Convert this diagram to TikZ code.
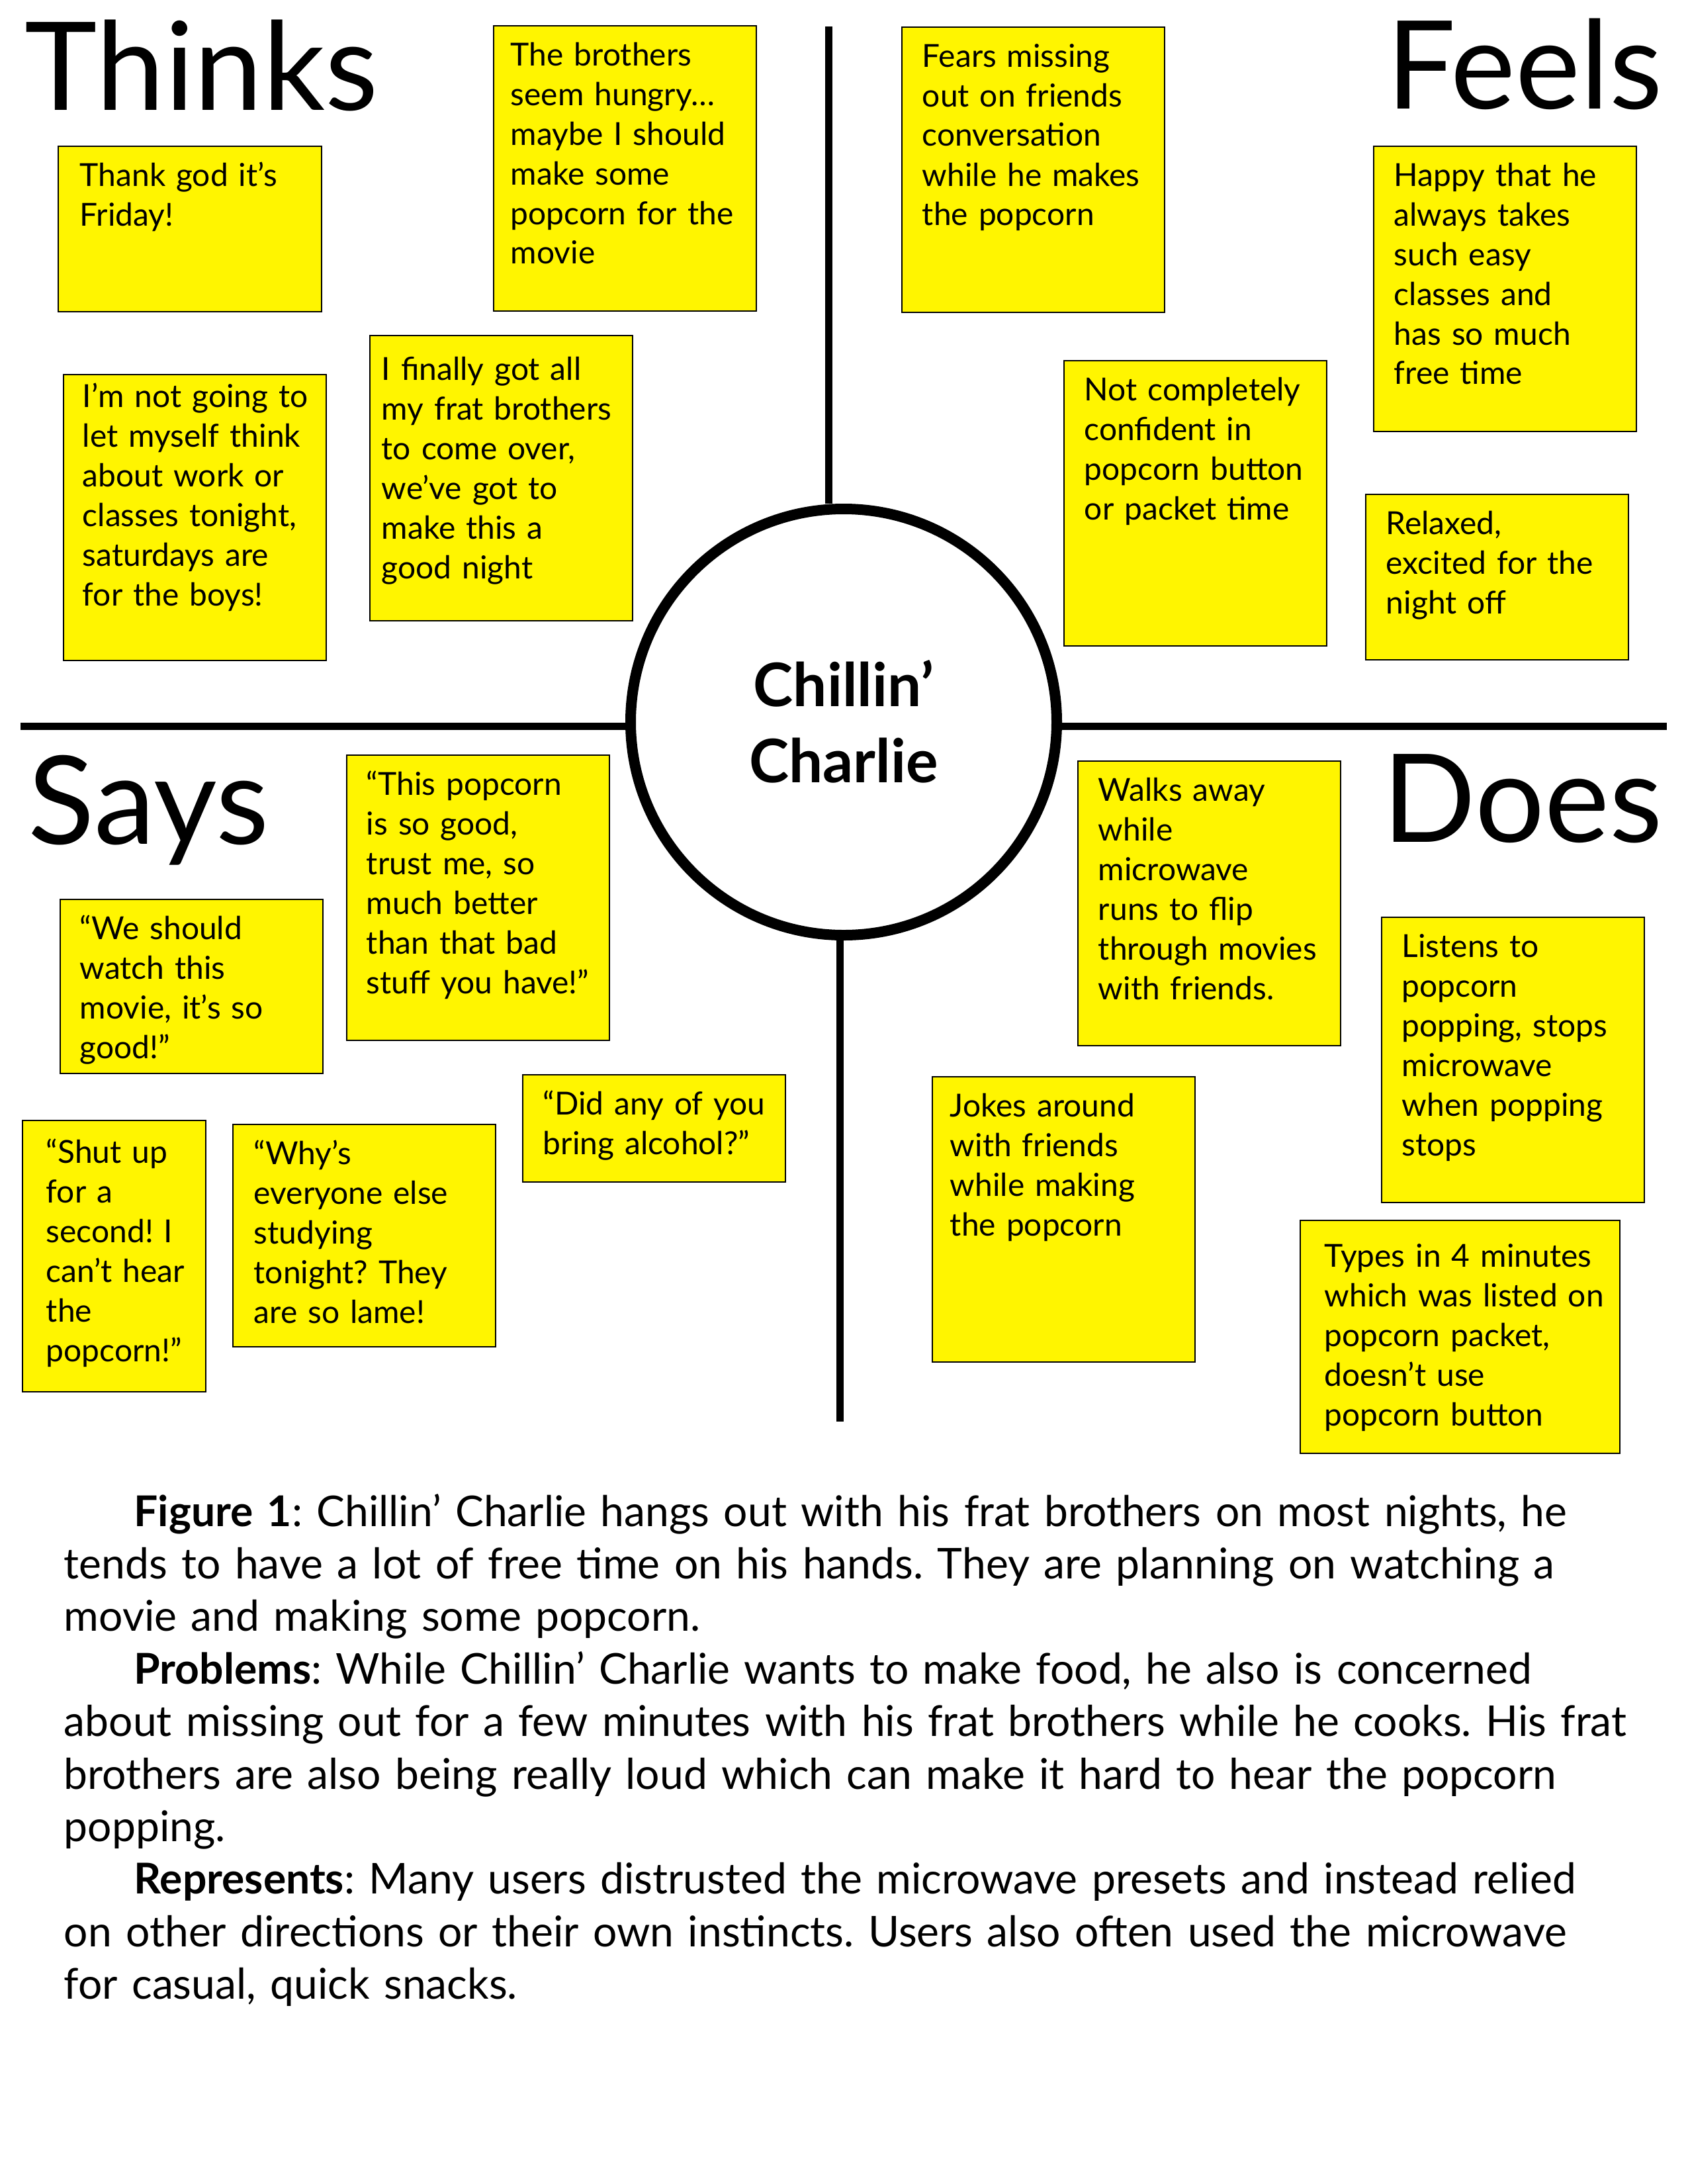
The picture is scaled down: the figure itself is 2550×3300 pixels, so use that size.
\documentclass[tikz,border=0pt]{standalone}
\usepackage{fontspec}
\setmainfont{Lato}
\frenchspacing
\definecolor{stickyyellow}{RGB}{255,245,0}
\tikzset{
  stickybox/.style={draw=black, line width=0.45pt, fill=stickyyellow, rectangle, inner sep=0pt, outer sep=0pt},
  stickytext/.style={inner sep=0pt, align=left, text width=140pt, font=\fontsize{11.5}{14.4}\selectfont},
  quadtitle/.style={inner sep=0pt, font=\fontsize{44.5}{50}\selectfont},
  centertxt/.style={inner sep=0pt, font=\fontsize{21.8}{26}\selectfont\bfseries},
  axisline/.style={line width=2.64pt},
  para/.style={inner sep=0pt, align=left, text width=640pt, font=\fontsize{15.4}{19.06}\selectfont},
}
% name, left, top, width, height, x padding, first baseline offset, text
\newcommand\stickynote[8]{%
  \node[stickybox, anchor=north west, minimum width=#4*0.24pt, minimum height=#5*0.24pt] (#1) at (#2,#3) {};
  \node[stickytext, anchor=base west] (#1-t) at ([xshift=#6*0.24pt, yshift=-#7*0.24pt]#1.north west) {#8};
}
\begin{document}
\begin{tikzpicture}[x=0.24pt, y=-0.24pt]
\useasboundingbox[fill=white] (0,0) rectangle (2550,3300);

% titles
\node[quadtitle, anchor=base west] (thinks) at (37,166) {Thinks};
\node[quadtitle, anchor=base east] (feels) at (2513,164) {Feels};
\node[quadtitle, anchor=base west] (says) at (42,1275) {Says};
\node[quadtitle, anchor=base east] (does) at (2513,1272) {Does};

% circle and axes
\node[draw, circle, line width=3.84pt, minimum size=644*0.24pt, inner sep=0pt] (c) at (1275,1091) {};
\node[centertxt, anchor=base] (c1) at (1275,1067) {Chillin’};
\node[centertxt, anchor=base] (c2) at (1275,1182) {Charlie};

\coordinate (vt) at (1252,40);
\coordinate (vb) at (1269,2148);
\coordinate (hl) at (31,1097);
\coordinate (hr) at (2519,1097);
\draw[axisline] (vt) -- (vt |- c.north);
\draw[axisline] (vb |- c.south) -- (vb);
\draw[axisline] (hl) -- (hl -| c.west);
\draw[axisline] (hr -| c.east) -- (hr);

% Thinks
\stickynote{t1}{88}{221}{398}{250}{32}{60}{Thank god it’s\\Friday!}
\stickynote{t2}{746}{39}{397}{431}{25}{60}{The brothers\\seem hungry…\\maybe I should\\make some\\popcorn for the\\movie}
\stickynote{t3}{96}{566}{397}{432}{28}{49}{I’m not going to\\let myself think\\about work or\\classes tonight,\\saturdays are\\for the boys!}
\stickynote{t4}{559}{507}{397}{431}{17}{67}{I finally got all\\my frat brothers\\to come over,\\we’ve got to\\make this a\\good night}

% Feels
\stickynote{f1}{1363}{41}{397}{431}{30}{60}{Fears missing\\out on friends\\conversation\\while he makes\\the popcorn}
\stickynote{f2}{2076}{221}{397}{431}{30}{60}{Happy that he\\always takes\\such easy\\classes and\\has so much\\free time}
\stickynote{f3}{1608}{545}{397}{431}{30}{60}{Not completely\\confident in\\popcorn button\\or packet time}
\stickynote{f4}{2064}{747}{397}{250}{30}{60}{Relaxed,\\excited for the\\night off}

% Says
\stickynote{s1}{524}{1141}{397}{431}{29}{60}{“This popcorn\\is so good,\\trust me, so\\much better\\than that bad\\stuff you have!”}
\stickynote{s2}{91}{1359}{397}{263}{29}{60}{“We should\\watch this\\movie, it’s so\\good!”}
\stickynote{s3}{790}{1624}{397}{162}{30}{60}{“Did any of you\\bring alcohol?”}
\stickynote{s4}{34}{1693}{277}{410}{35}{64}{“Shut up\\for a\\second! I\\can’t hear\\the\\popcorn!”}
\stickynote{s5}{352}{1699}{397}{336}{31}{60}{“Why’s\\everyone else\\studying\\tonight? They\\are so lame!}

% Does
\stickynote{d1}{1629}{1150}{397}{430}{30}{60}{Walks away\\while\\microwave\\runs to flip\\through movies\\with friends.}
\stickynote{d2}{2088}{1386}{397}{431}{30}{60}{Listens to\\popcorn\\popping, stops\\microwave\\when popping\\stops}
\stickynote{d3}{1409}{1627}{397}{431}{26}{60}{Jokes around\\with friends\\while making\\the popcorn}
\stickynote{d4}{1965}{1844}{483}{352}{36}{70}{Types in 4 minutes\\which was listed on\\popcorn packet,\\doesn’t use\\popcorn button}

% caption paragraph
\node[para, anchor=base west] (caption) at (96,2306) {%
\hspace*{25.4pt}\textbf{Figure 1}: Chillin’ Charlie hangs out with his frat brothers on most nights, he\\
tends to have a lot of free time on his hands. They are planning on watching a\\
movie and making some popcorn.\\
\hspace*{25.4pt}\textbf{Problems}: While Chillin’ Charlie wants to make food, he also is concerned\\
about missing out for a few minutes with his frat brothers while he cooks. His frat\\
brothers are also being really loud which can make it hard to hear the popcorn\\
popping.\\
\hspace*{25.4pt}\textbf{Represents}: Many users distrusted the microwave presets and instead relied\\
on other directions or their own instincts. Users also often used the microwave\\
for casual, quick snacks.};
\end{tikzpicture}
\end{document}
